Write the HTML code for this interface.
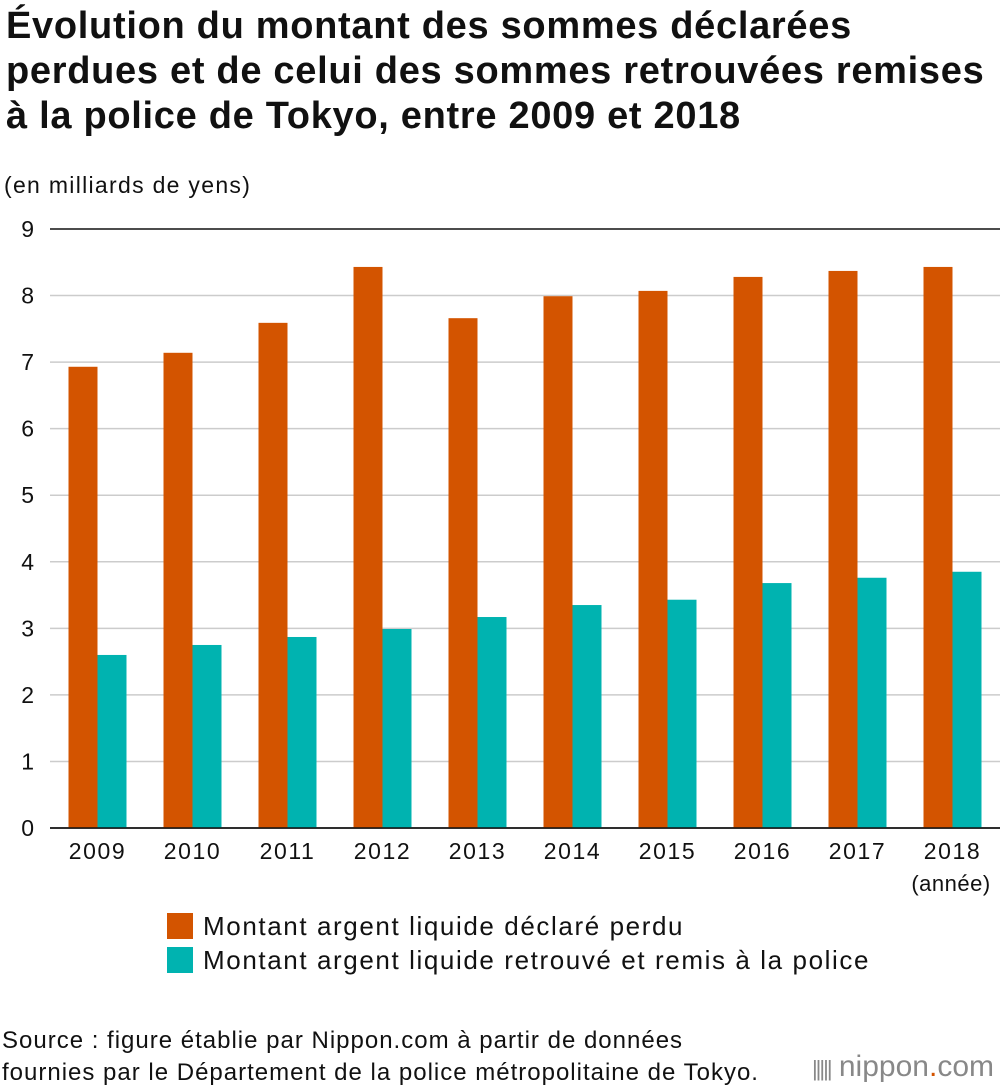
<!DOCTYPE html>
<html><head><meta charset="utf-8">
<style>
body{margin:0;background:#fff;font-family:"Liberation Sans",Arial,sans-serif;color:#111;}
#wrap{position:relative;width:1000px;height:1092px;overflow:hidden;}
h1{position:absolute;left:6px;top:4px;margin:0;font-size:38px;line-height:45px;font-weight:bold;letter-spacing:0.7px;white-space:nowrap;}
.unit{position:absolute;left:4px;top:172px;font-size:23px;letter-spacing:1.3px;}
.src{position:absolute;left:2px;top:1025px;font-size:24px;line-height:32px;letter-spacing:1px;white-space:nowrap;}
.logo{position:absolute;right:6px;top:1050px;font-size:30px;color:#888;}
</style></head><body>
<div id="wrap">
<h1>Évolution du montant des sommes déclarées<br>perdues et de celui des sommes retrouvées remises<br>à la police de Tokyo, entre 2009 et 2018</h1>
<div class="unit">(en milliards de yens)</div>
<svg id="chart" width="1000" height="1000" style="position:absolute;left:0;top:0"></svg>
<div class="src">Source : figure établie par Nippon.com à partir de données<br>fournies par le Département de la police métropolitaine de Tokyo.</div>
<div class="logo"><span style="letter-spacing:-2px;font-size:22px">|||||</span> nippon<span style="color:#d35400">.</span>com</div>
</div>
<script>
const categories=["2009","2010","2011","2012","2013","2014","2015","2016","2017","2018"];
const lostValues=[6.93,7.14,7.59,8.43,7.66,7.99,8.07,8.28,8.37,8.43];
const foundValues=[2.60,2.75,2.87,2.99,3.17,3.35,3.43,3.68,3.76,3.85];
const yTicks=[0,1,2,3,4,5,6,7,8,9];
const legendLabels=["Montant argent liquide déclaré perdu","Montant argent liquide retrouvé et remis à la police"];

const svg=document.getElementById('chart');
const NS="http://www.w3.org/2000/svg";
const plotLeft=50,plotRight=1000,plotTop=229,plotBottom=828,yMax=9;
const yScale=v=>plotBottom-(v/yMax)*(plotBottom-plotTop);
const band=(plotRight-plotLeft)/categories.length;
const xc=i=>plotLeft+band*(i+0.5);
const bw=29;
function mk(t,a){const e=document.createElementNS(NS,t);for(const k in a)e.setAttribute(k,a[k]);svg.appendChild(e);return e;}
yTicks.forEach(t=>{
  const edge=(t===9||t===0);
  const l=mk('line',{x1:plotLeft,x2:plotRight,y1:yScale(t),y2:yScale(t),stroke:edge?'#111':'#ccc','stroke-width':1.5});
  
  
  const tx=mk('text',{x:34,y:yScale(t)+8,'text-anchor':'end','font-size':23,fill:'#111'});
  tx.textContent=t;
  
  
});
categories.forEach((c,i)=>{
  const r1=mk('rect',{x:xc(i)-bw,y:yScale(lostValues[i]),width:bw,height:plotBottom-yScale(lostValues[i]),fill:'#d35400'});
  
  
  const r2=mk('rect',{x:xc(i),y:yScale(foundValues[i]),width:bw,height:plotBottom-yScale(foundValues[i]),fill:'#00b3b0'});
  
  
  const tx=mk('text',{x:xc(i),y:859,'text-anchor':'middle','font-size':23,'letter-spacing':'1.6',fill:'#111'});
  tx.textContent=c;
  
  
});
const base=mk('line',{x1:plotLeft,x2:plotRight,y1:plotBottom,y2:plotBottom,stroke:'#111','stroke-width':1.5});


const an=mk('text',{x:951,y:891,'text-anchor':'middle','font-size':22,'letter-spacing':'0.5',fill:'#111'});
an.textContent='(année)';


const colors=['#d35400','#00b3b0'];
legendLabels.forEach((l,i)=>{
  const r=mk('rect',{x:167,y:913+i*34,width:26,height:26,fill:colors[i]});
  
  
  const t=mk('text',{x:203,y:935+i*34,'font-size':26,'letter-spacing':'1.6',fill:'#111'});
  t.textContent=l;
  
  
});
</script>
</body></html>
